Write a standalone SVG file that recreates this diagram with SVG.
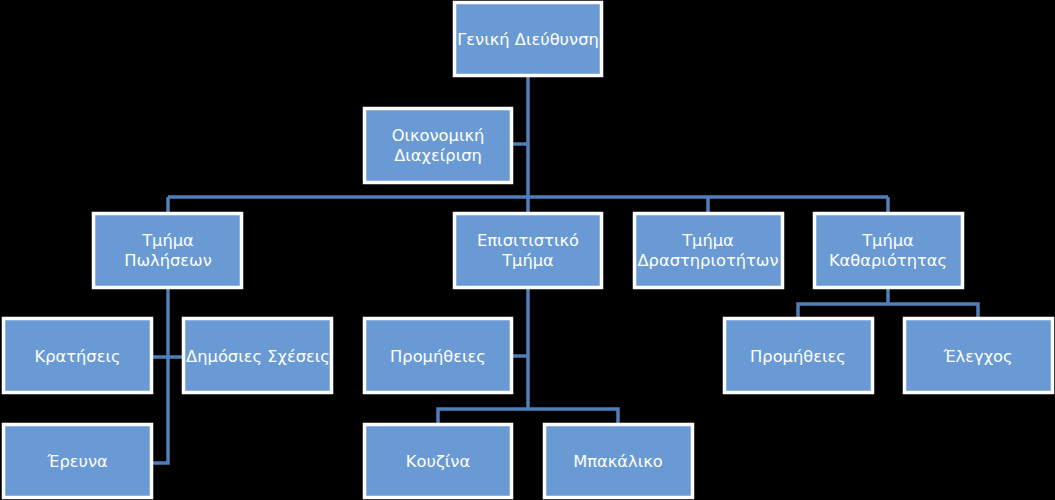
<svg xmlns="http://www.w3.org/2000/svg" width="1055" height="500" viewBox="0 0 1055 500">
<style>
.n{fill:#6A9AD3;stroke:#FFFFFF;stroke-width:3.5}
.t{font-family:"DejaVu Sans",Verdana,sans-serif;font-size:16.3px;fill:#FFFFFF;text-anchor:middle}
.c{fill:none;stroke:#4F7FB8;stroke-width:3.5;stroke-linejoin:miter}
</style>
<rect width="1055" height="500" fill="#000000"/>
<g id="connectors">
<path class="c" d="M528,77V197M513,144H528M168,197H888M168,197V212M528,197V212M708,197V212M888,197V212"/>
<path class="c" d="M168,289V463H153M153,357H182"/>
<path class="c" d="M528,289V409M513,356H528M438,423V409H618V423"/>
<path class="c" d="M888,289V304M798,317V304H978V317"/>
</g>
<g id="n-gd"><rect class="n" x="454.5" y="2.5" width="147" height="73"/><text class="t" x="528" y="45">Γενική Διεύθυνση</text></g>
<g id="n-oik"><rect class="n" x="364.5" y="108.5" width="147" height="74"/><text class="t" x="438" y="141">Οικονομική</text><text class="t" x="438" y="160.5">Διαχείριση</text></g>
<g id="n-pol"><rect class="n" x="93.5" y="213.5" width="148" height="74"/><text class="t" x="168" y="246">Τμήμα</text><text class="t" x="168" y="265.5">Πωλήσεων</text></g>
<g id="n-epi"><rect class="n" x="454.5" y="213.5" width="147" height="74"/><text class="t" x="528" y="246">Επισιτιστικό</text><text class="t" x="528" y="265.5">Τμήμα</text></g>
<g id="n-dra"><rect class="n" x="634.5" y="213.5" width="148" height="74"/><text class="t" x="708" y="246">Τμήμα</text><text class="t" x="708" y="265.5">Δραστηριοτήτων</text></g>
<g id="n-kath"><rect class="n" x="814.5" y="213.5" width="148" height="74"/><text class="t" x="888" y="246">Τμήμα</text><text class="t" x="888" y="265.5">Καθαριότητας</text></g>
<g id="n-krat"><rect class="n" x="3.5" y="318.5" width="148" height="74"/><text class="t" x="77.5" y="361.5">Κρατήσεις</text></g>
<g id="n-dim"><rect class="n" x="183.5" y="318.5" width="148" height="74"/><text class="t" x="258" y="361.5">Δημόσιες Σχέσεις</text></g>
<g id="n-ere"><rect class="n" x="3.5" y="424.5" width="148" height="73"/><text class="t" x="77.5" y="467">Έρευνα</text></g>
<g id="n-prom1"><rect class="n" x="364.5" y="318.5" width="147" height="74"/><text class="t" x="438" y="361.5">Προμήθειες</text></g>
<g id="n-kouz"><rect class="n" x="364.5" y="424.5" width="147" height="73"/><text class="t" x="438" y="467">Κουζίνα</text></g>
<g id="n-bak"><rect class="n" x="544.5" y="424.5" width="148" height="73"/><text class="t" x="618" y="467">Μπακάλικο</text></g>
<g id="n-prom2"><rect class="n" x="724.5" y="318.5" width="148" height="74"/><text class="t" x="798" y="361.5">Προμήθειες</text></g>
<g id="n-ele"><rect class="n" x="904.5" y="318.5" width="148" height="74"/><text class="t" x="978" y="361.5">Έλεγχος</text></g>
</svg>
